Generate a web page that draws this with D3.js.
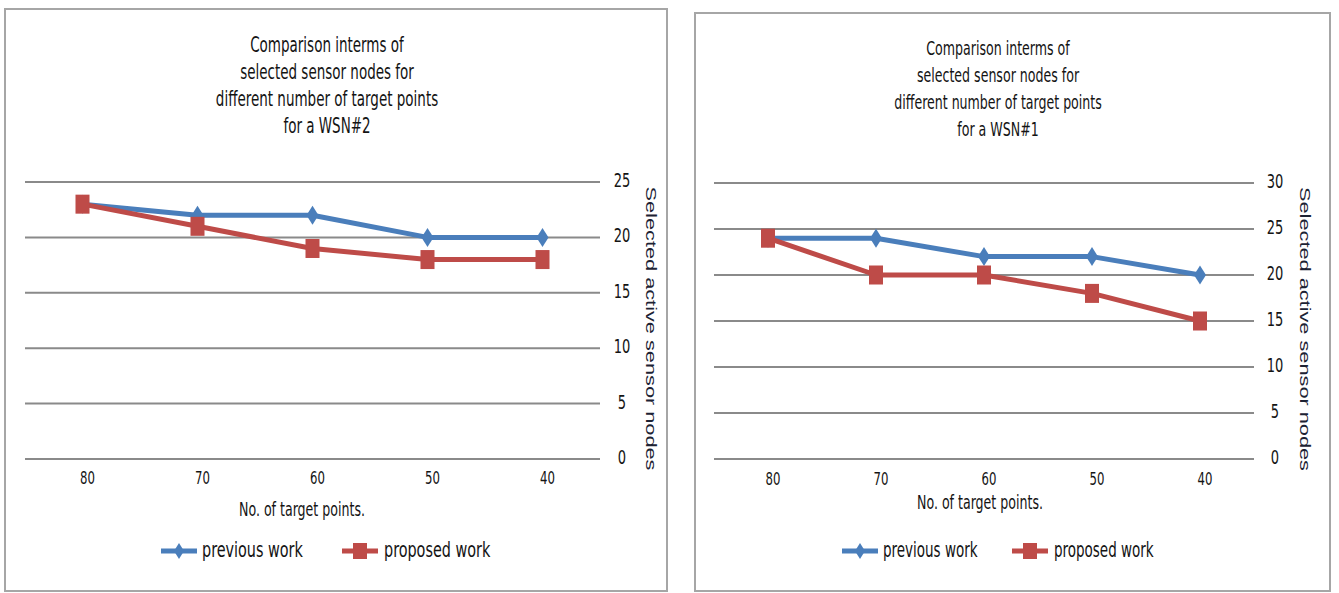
<!DOCTYPE html>
<html>
<head>
<meta charset="utf-8">
<script src="https://cdn.jsdelivr.net/npm/d3@7"></script>
<style>
  html, body { margin: 0; padding: 0; background: #fff; }
  svg { display: block; }
  text { font-family: "Liberation Sans Narrow", "DejaVu Sans Condensed", "Liberation Sans", sans-serif; fill: #141414; }
  .ytitle { font-family: "Liberation Sans", Arial, sans-serif; fill: #1c2233; }
</style>
</head>
<body>
<svg id="chart" width="1339" height="593"></svg>
<script>
// Number of target points along the x axis
const categories = ["80", "70", "60", "50", "40"];

// WSN#2 – selected active sensor nodes
const wsn2Previous = [23, 22, 22, 20, 20];
const wsn2Proposed = [23, 21, 19, 18, 18];
const wsn2Ticks = [0, 5, 10, 15, 20, 25];

// WSN#1 – selected active sensor nodes
const wsn1Previous = [24, 24, 22, 22, 20];
const wsn1Proposed = [24, 20, 20, 18, 15];
const wsn1Ticks = [0, 5, 10, 15, 20, 25, 30];

const titleLines2 = ["Comparison interms of", "selected sensor nodes for", "different number of target points", "for a WSN#2"];
const titleLines1 = ["Comparison interms of", "selected sensor nodes for", "different number of target points", "for a WSN#1"];
const xTitle = "No. of target points.";
const yTitle = "Selected active sensor nodes";
const seriesNames = ["previous work", "proposed work"];

const BLUE = "#4a7ebb";
const RED = "#be4b48";
const GRID = "#8a8a8a";
const FRAME = "#a6a6a6";
const SY = 1.38; // vertical stretch of lettering

const svg = d3.select("#chart");

const panels = [
  {
    frame: { x0: 5, y0: 9, x1: 667, y1: 591 },
    plot: { x0: 25, x1: 600, y0: 182, y1: 459 },
    ticks: wsn2Ticks, previous: wsn2Previous, proposed: wsn2Proposed,
    title: titleLines2, titleX: 327, titleY: 52, titleSize: 15,
    yLabelX: 622, yTitleX: 651,
    xLabelY: 484, xTitleX: 302, xTitleY: 516,
    legend: { y: 551, blue: 161, red: 342, size: 16 }
  },
  {
    frame: { x0: 695, y0: 13, x1: 1330, y1: 591 },
    plot: { x0: 714, x1: 1254, y0: 183, y1: 459 },
    ticks: wsn1Ticks, previous: wsn1Previous, proposed: wsn1Proposed,
    title: titleLines1, titleX: 998, titleY: 55, titleSize: 14,
    yLabelX: 1275, yTitleX: 1305,
    xLabelY: 485, xTitleX: 980, xTitleY: 509,
    legend: { y: 551, blue: 842, red: 1012, size: 15 }
  }
];

function stretchedText(g, str, x, y, size, anchor) {
  return g.append("text")
    .attr("transform", `translate(${x},${y}) scale(1,${SY})`)
    .attr("text-anchor", anchor || "middle")
    .style("font-size", size + "px")
    .text(str);
}

function diamondPath(cx, cy, w, h) {
  return `M${cx},${cy - h / 2}L${cx + w / 2},${cy}L${cx},${cy + h / 2}L${cx - w / 2},${cy}Z`;
}

panels.forEach(p => {
  const g = svg.append("g");

  // panel frame
  g.append("rect")
    .attr("x", p.frame.x0).attr("y", p.frame.y0)
    .attr("width", p.frame.x1 - p.frame.x0).attr("height", p.frame.y1 - p.frame.y0)
    .attr("fill", "none").attr("stroke", FRAME).attr("stroke-width", 2);

  const x = d3.scaleBand().domain(categories).range([p.plot.x0, p.plot.x1]);
  const yMax = d3.max(p.ticks);
  const y = d3.scaleLinear().domain([0, yMax]).range([p.plot.y1, p.plot.y0]);

  // horizontal gridlines
  g.append("g").selectAll("line").data(p.ticks).join("line")
    .attr("x1", p.plot.x0).attr("x2", p.plot.x1)
    .attr("y1", d => y(d)).attr("y2", d => y(d))
    .attr("stroke", GRID).attr("stroke-width", 2);

  // right-hand value labels
  p.ticks.forEach(t => stretchedText(g, String(t), p.yLabelX, y(t) + 5, 14.5, "middle"));

  // category labels
  categories.forEach(c => stretchedText(g, c, x(c) + x.bandwidth() / 2 + 5, p.xLabelY, 13, "middle"));

  // title
  p.title.forEach((line, i) => stretchedText(g, line, p.titleX, p.titleY + i * 27, p.titleSize, "middle"));

  // x axis title
  stretchedText(g, xTitle, p.xTitleX, p.xTitleY, 14, "middle");

  // y axis title, reading downwards
  const cy = (p.plot.y0 + p.plot.y1) / 2 + 8;
  g.append("text").attr("class", "ytitle")
    .attr("transform", `translate(${p.yTitleX - 5},${cy}) rotate(90) scale(1.45,1)`)
    .attr("text-anchor", "middle")
    .style("font-size", "15px")
    .text(yTitle);

  const line = d3.line()
    .x((d, i) => x(categories[i]) + x.bandwidth() / 2)
    .y(d => y(d));

  // previous work series
  g.append("path").datum(p.previous).attr("d", line)
    .attr("fill", "none").attr("stroke", BLUE).attr("stroke-width", 5)
    .attr("stroke-linejoin", "round");
  g.append("g").selectAll("path").data(p.previous).join("path")
    .attr("d", (d, i) => diamondPath(x(categories[i]) + x.bandwidth() / 2, y(d), 12, 19))
    .attr("fill", BLUE);

  // proposed work series
  g.append("path").datum(p.proposed).attr("d", line)
    .attr("fill", "none").attr("stroke", RED).attr("stroke-width", 5)
    .attr("stroke-linejoin", "round");
  g.append("g").selectAll("rect").data(p.proposed).join("rect")
    .attr("x", (d, i) => x(categories[i]) + x.bandwidth() / 2 - 7)
    .attr("y", d => y(d) - 9.5)
    .attr("width", 14).attr("height", 19)
    .attr("fill", RED);

  // legend
  const ly = p.legend.y;
  g.append("line").attr("x1", p.legend.blue).attr("x2", p.legend.blue + 36)
    .attr("y1", ly).attr("y2", ly).attr("stroke", BLUE).attr("stroke-width", 5);
  g.append("path").attr("d", diamondPath(p.legend.blue + 18, ly, 10, 16)).attr("fill", BLUE);
  stretchedText(g, seriesNames[0], p.legend.blue + 41, ly + 6, p.legend.size, "start");

  g.append("line").attr("x1", p.legend.red).attr("x2", p.legend.red + 36)
    .attr("y1", ly).attr("y2", ly).attr("stroke", RED).attr("stroke-width", 5);
  g.append("rect").attr("x", p.legend.red + 11).attr("y", ly - 8)
    .attr("width", 14).attr("height", 16).attr("fill", RED);
  stretchedText(g, seriesNames[1], p.legend.red + 42, ly + 6, p.legend.size, "start");
});
</script>
</body>
</html>
